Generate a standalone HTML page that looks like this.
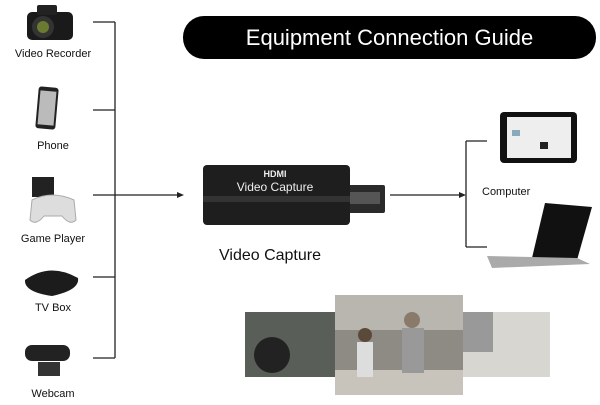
<!DOCTYPE html>
<html><head><style>
body{margin:0;width:600px;height:405px;background:#fff;position:relative;overflow:hidden;font-family:"Liberation Sans",sans-serif}
.a{position:absolute}
.l{position:absolute;font-size:11px;color:#111;text-align:center;width:110px;left:-2px}
</style></head><body>
<svg class="a" style="left:0;top:0" width="600" height="405">
<g stroke="#222" stroke-width="1.3" fill="none">
<line x1="115" y1="22" x2="115" y2="358"/>
<line x1="93" y1="22" x2="115" y2="22"/><line x1="93" y1="110" x2="115" y2="110"/>
<line x1="93" y1="277" x2="115" y2="277"/><line x1="93" y1="358" x2="115" y2="358"/>
<line x1="93" y1="195" x2="178" y2="195"/>
<line x1="390" y1="195" x2="460" y2="195"/>
<line x1="466" y1="141" x2="466" y2="247"/><line x1="466" y1="141" x2="487" y2="141"/><line x1="466" y1="247" x2="487" y2="247"/>
</g>
<polygon points="184,195 177,192 177,198" fill="#222"/>
<polygon points="466,195 459,192 459,198" fill="#222"/>
<rect x="183" y="16" width="413" height="43" rx="21" fill="#000"/>
<rect x="27" y="12" width="46" height="28" rx="5" fill="#1a1a1a"/><rect x="37" y="5" width="20" height="10" rx="2" fill="#222"/>
<circle cx="43" cy="27" r="11" fill="#333"/><circle cx="43" cy="27" r="6" fill="#6a7a30"/>
<rect x="37" y="87" width="20" height="42" rx="3" fill="#222" transform="rotate(5 47 108)"/>
<rect x="39" y="91" width="16" height="34" fill="#bbb" transform="rotate(5 47 108)"/>
<rect x="32" y="177" width="22" height="20" fill="#222"/>
<path d="M32 200 Q52 190 74 200 L76 220 Q70 226 62 216 L44 216 Q36 226 30 220Z" fill="#ddd" stroke="#aaa"/>
<path d="M25 280 Q50 262 78 278 Q80 290 52 296 Q24 292 25 280Z" fill="#1c1c1c"/>
<rect x="25" y="345" width="45" height="16" rx="7" fill="#222"/><rect x="38" y="362" width="22" height="14" fill="#333"/>
<rect x="345" y="185" width="40" height="28" rx="2" fill="#2a2a2a"/><rect x="350" y="192" width="30" height="12" fill="#555"/>
<rect x="203" y="165" width="147" height="60" rx="4" fill="#1e1e1e"/>
<rect x="203" y="196" width="147" height="6" fill="#333"/>
<text x="275" y="177" font-size="9" fill="#eee" text-anchor="middle" font-weight="bold">HDMI</text>
<text x="275" y="191" font-size="12" fill="#eee" text-anchor="middle">Video Capture</text>
<rect x="500" y="112" width="77" height="51" rx="4" fill="#111"/><rect x="507" y="117" width="64" height="41" fill="#eee"/>
<rect x="512" y="130" width="8" height="6" fill="#8ab"/><rect x="540" y="142" width="8" height="7" fill="#222"/>
<polygon points="545,203 592,207 577,260 532,258" fill="#111"/>
<polygon points="487,256 577,258 590,264 492,268" fill="#aaa"/>
<rect x="245" y="312" width="90" height="65" fill="#5a5e58"/><circle cx="272" cy="355" r="18" fill="#222"/>
<rect x="463" y="312" width="87" height="65" fill="#d8d6d0"/><rect x="463" y="312" width="30" height="40" fill="#999"/>
<rect x="335" y="295" width="128" height="100" fill="#b9b6b0"/>
<rect x="335" y="330" width="128" height="40" fill="#8e8a84"/>
<rect x="335" y="370" width="128" height="25" fill="#c9c4bb"/>
<circle cx="365" cy="335" r="7" fill="#5b4a3a"/><rect x="357" y="342" width="16" height="35" fill="#ddd"/>
<circle cx="412" cy="320" r="8" fill="#8a7a6a"/><rect x="402" y="328" width="22" height="45" fill="#999"/>
</svg>
<div class="a" style="left:183px;top:16px;width:413px;height:43px;line-height:43px;color:#fff;font-size:22px;text-align:center">Equipment Connection Guide</div>
<div class="l" style="top:48px">Video Recorder</div>
<div class="l" style="top:140px">Phone</div>
<div class="l" style="top:233px">Game Player</div>
<div class="l" style="top:302px">TV Box</div>
<div class="l" style="top:388px">Webcam</div>
<div class="a" style="left:219px;top:247px;font-size:16px;color:#111">Video Capture</div>
<div class="a" style="left:482px;top:186px;font-size:11px;color:#111">Computer</div>
</body></html>
